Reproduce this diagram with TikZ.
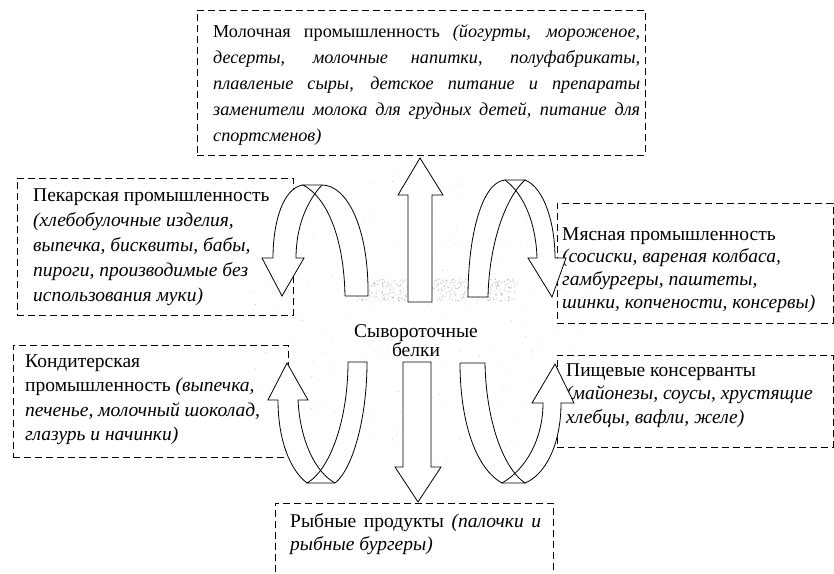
\documentclass[tikz,border=0pt]{standalone}
\usepackage{fontspec}
\setmainfont{Liberation Serif}
\newcommand\fsz[2]{\fontsize{#1}{#2}\selectfont}
\newcommand\lead{\rule{0pt}{14pt}}
\begin{document}
\begin{tikzpicture}[x=1pt,y=-1pt,
  box/.style={draw, dash pattern=on 7pt off 4pt, line width=0.7pt, inner sep=0pt, anchor=north west},
  txt/.style={anchor=north west, inner sep=0pt, align=left},
  barrow/.style={draw=black, line width=0.8pt, fill=white, line join=miter}]
\useasboundingbox (0,0) rectangle (834,573);
\clip (0,0) rectangle (834,573);
% speckled background round the centre
\pgfmathsetseed{12}
\foreach \i in {1,...,450}{\fill[gray!75] ({355+160*rnd},{279+22*rnd}) circle (0.45);}
\foreach \i in {1,...,220}{\pgfmathsetmacro\aa{360*rnd}\pgfmathsetmacro\rr{sqrt(rnd)}%
  \fill[gray!55] ({416+175*\rr*cos(\aa)},{320+150*\rr*sin(\aa)}) circle (0.4);}
% boxes
\node[box, minimum width=448pt, minimum height=145pt] (milk) at (197,10) {};
\node[box, minimum width=276pt, minimum height=137pt] (bake) at (17,178) {};
\node[box, minimum width=276pt, minimum height=120pt] (meat) at (557,203) {};
\node[box, minimum width=275pt, minimum height=112pt] (conf) at (13,345) {};
\node[box, minimum width=276pt, minimum height=92pt] (pres) at (557,355) {};
\node[box, minimum width=278pt, minimum height=75pt] (fish) at (275,503) {};
% texts
\node[txt, font=\fsz{18.2}{26}] (milkT) at (213,23) {\lead\makebox[427pt][s]{Молочная промышленность \textit{(йогурты, мороженое,}}\\
\makebox[427pt][s]{\textit{десерты, молочные напитки, полуфабрикаты,}}\\
\makebox[427pt][s]{\textit{плавленые сыры, детское питание и препараты}}\\
\makebox[427pt][s]{\textit{заменители молока для грудных детей, питание для}}\\
\textit{спортсменов)}};
\node[txt, font=\fsz{19.5}{25}] (bakeT) at (33,187) {\lead Пекарская промышленность\\
\textit{(хлебобулочные изделия,}\\
\textit{выпечка, бисквиты, бабы,}\\
\textit{пироги, производимые без}\\
\textit{использования муки)}};
\node[txt, font=\fsz{19.5}{22.7}] (meatT) at (562,226) {\lead Мясная промышленность\\
\textit{(сосиски, вареная колбаса,}\\
\textit{гамбургеры, паштеты,}\\
\textit{шинки, копчености, консервы)}};
\node[txt, font=\fsz{19.5}{24.5}] (confT) at (25,353) {\lead Кондитерская\\
промышленность \textit{(выпечка,}\\
\textit{печенье, молочный шоколад,}\\
\textit{глазурь и начинки)}};
\node[txt, font=\fsz{19.5}{23.5}] (presT) at (566,362) {\lead Пищевые консерванты\\
\textit{(майонезы, соусы, хрустящие}\\
\textit{хлебцы, вафли, желе)}};
\node[txt, font=\fsz{19.5}{23}] (fishT) at (290,513) {\lead\makebox[251pt][s]{Рыбные продукты \textit{(палочки и}}\\
\textit{рыбные бургеры)}};
\node[anchor=north, inner sep=0pt, align=center, font=\fsz{19.5}{17.5}] (core) at (416,323) {\lead Сывороточные\\белки};
% straight block arrows
\draw[barrow] (408,302) -- (408,195) -- (398,195) -- (420,158) -- (443,195) -- (432,195) -- (432,302) -- cycle;
\draw[barrow] (403,362) -- (431,362) -- (431,467) -- (441,467) -- (418,502) -- (395,467) -- (403,467) -- cycle;
% arrow A (upper left)
\fill[white] (345,296) -- (368,296) .. controls (369,228) and (347,185) .. (322,185) -- (303,185) .. controls (328,198) and (344,240) .. (345,296) -- cycle;
\fill[white] (303,185) -- (322,185) .. controls (306,202) and (296,228) .. (296,258) -- (304,258) -- (282,296) -- (262,258) -- (273,258) .. controls (273,222) and (283,188) .. (303,185) -- cycle;
\draw[barrow, fill=none] (345,296) -- (368,296) .. controls (369,228) and (347,185) .. (322,185) -- (303,185) .. controls (328,198) and (344,240) .. (345,296);
\draw[barrow, fill=none] (322,185) .. controls (306,202) and (296,228) .. (296,258) -- (304,258) -- (282,296) -- (262,258) -- (273,258) .. controls (273,222) and (283,188) .. (303,185);
% arrow B (upper right)
\fill[white] (468,297) .. controls (468,235) and (482,182) .. (505,180) -- (525,180) .. controls (505,198) and (489,245) .. (488,297) -- cycle;
\fill[white] (505,180) -- (525,180) .. controls (545,188) and (555,225) .. (555,258) -- (566,258) -- (552,297) -- (528,258) -- (537,258) .. controls (536,225) and (525,195) .. (505,180) -- cycle;
\draw[barrow, fill=none] (488,297) -- (468,297) .. controls (468,235) and (482,182) .. (505,180) -- (525,180) .. controls (505,198) and (489,245) .. (488,297);
\draw[barrow, fill=none] (525,180) .. controls (545,188) and (555,225) .. (555,258) -- (566,258) -- (552,297) -- (528,258) -- (537,258) .. controls (536,225) and (525,195) .. (505,180);
% arrow C (lower left)
\fill[white] (348,362) -- (367,362) .. controls (367,420) and (352,470) .. (335,483) -- (307,483) .. controls (330,470) and (348,420) .. (348,362) -- cycle;
\fill[white] (307,483) .. controls (290,470) and (278,440) .. (278,400) -- (268,400) -- (287,363) -- (308,400) -- (298,400) .. controls (300,440) and (315,472) .. (335,483) -- cycle;
\draw[barrow, fill=none] (348,362) -- (367,362) .. controls (367,420) and (352,470) .. (335,483) -- (307,483) .. controls (330,470) and (348,420) .. (348,362);
\draw[barrow, fill=none] (307,483) .. controls (290,470) and (278,440) .. (278,400) -- (268,400) -- (287,363) -- (308,400) -- (298,400) .. controls (300,440) and (315,472) .. (335,483);
% arrow D (lower right)
\fill[white] (460,363) -- (485,363) .. controls (486,420) and (503,468) .. (525,483) -- (502,483) .. controls (475,468) and (460,420) .. (460,363) -- cycle;
\fill[white] (502,483) .. controls (525,470) and (543,440) .. (543,403) -- (532,403) -- (555,364) -- (574,403) -- (561,403) .. controls (561,445) and (545,475) .. (525,483) -- cycle;
\draw[barrow, fill=none] (460,363) -- (485,363) .. controls (486,420) and (503,468) .. (525,483) -- (502,483) .. controls (475,468) and (460,420) .. (460,363);
\draw[barrow, fill=none] (502,483) .. controls (525,470) and (543,440) .. (543,403) -- (532,403) -- (555,364) -- (574,403) -- (561,403) .. controls (561,445) and (545,475) .. (525,483);
\end{tikzpicture}
\end{document}
